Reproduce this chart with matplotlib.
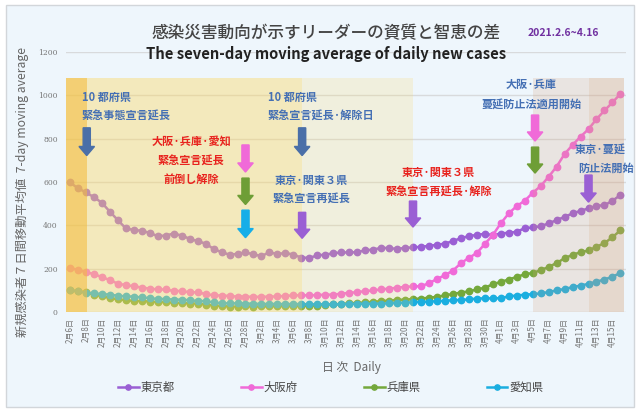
import matplotlib
matplotlib.use("Agg")
import matplotlib.pyplot as plt
from matplotlib.patches import Rectangle, FancyArrow
from matplotlib.lines import Line2D
import datetime as dt

plt.rcParams['font.family'] = ['Noto Sans CJK JP', 'DejaVu Sans']

# ---------------- data ----------------
start = dt.date(2021, 2, 6)
n_days = 70
dates = [start + dt.timedelta(days=i) for i in range(n_days)]
date_labels = [f"{d.month}月{d.day}日" for d in dates]

series_names = ["東京都", "大阪府", "兵庫県", "愛知県"]
tokyo = [598, 571, 552, 530, 504, 463, 424, 386, 378, 375,
         365, 350, 353, 362, 353, 338, 327, 316, 291, 276,
         265, 268, 275, 266, 258, 276, 267, 273, 265, 251,
         250, 261, 265, 271, 275, 275, 276, 285, 288, 296,
         295, 291, 296, 298, 301, 305, 310, 316, 327, 341,
         350, 356, 361, 355, 362, 366, 370, 387, 390, 396,
         409, 424, 439, 455, 467, 478, 490, 493, 513, 540]
osaka = [205, 193, 185, 174, 162, 147, 131, 124, 119, 113,
         108, 104, 104, 97, 97, 91, 91, 83, 77, 76,
         74, 71, 71, 70, 70, 71, 72, 74, 77, 77,
         77, 78, 80, 80, 85, 88, 92, 96, 100, 104,
         108, 112, 116, 118, 119, 133, 152, 170, 191, 225,
         250, 272, 314, 355, 409, 455, 489, 513, 550, 581,
         624, 671, 729, 771, 809, 844, 890, 930, 967, 1007]
hyogo = [100, 96, 91, 80, 73, 65, 58, 55, 51, 51,
         48, 46, 46, 42, 42, 39, 39, 34, 30, 28,
         25, 25, 26, 25, 26, 26, 27, 27, 27, 28,
         29, 30, 33, 35, 37, 40, 42, 44, 47, 50,
         53, 56, 57, 60, 62, 66, 70, 77, 83, 90,
         95, 104, 112, 128, 139, 150, 162, 174, 180, 193,
         208, 226, 248, 264, 276, 284, 301, 318, 345, 377]
aichi = [100, 95, 90, 86, 83, 80, 75, 72, 71, 67,
         64, 60, 60, 57, 57, 54, 51, 50, 44, 40,
         40, 40, 39, 38, 37, 37, 37, 36, 37, 36,
         36, 35, 36, 35, 36, 37, 38, 38, 38, 39,
         40, 42, 43, 45, 47, 48, 50, 52, 54, 56,
         58, 62, 63, 63, 64, 72, 76, 80, 82, 86,
         92, 100, 106, 115, 122, 130, 140, 150, 163, 180]
series = [tokyo, osaka, hyogo, aichi]
colors = ["#9a5fd4", "#f06ad8", "#74a83c", "#1aaee0"]

y_ticks = [0, 200, 400, 600, 800, 1000, 1200]

# ---------------- figure ----------------
W, H = 640, 415
fig = plt.figure(figsize=(W / 100, H / 100), dpi=100, facecolor="white")
panel = Rectangle((6 / W, 1 - 407 / H), 628 / W, 402 / H,
                  transform=fig.transFigure, facecolor="#eef6fc",
                  edgecolor="#d2d6da", linewidth=1, zorder=-10)
fig.patches.append(panel)

ax = fig.add_axes([66 / W, 1 - 312 / H, 560 / W, 260 / H])
ax.set_zorder(1)
ax.set_facecolor("none")
x = list(range(n_days))

ax.set_xlim(-0.5, 69.7)
ax.set_ylim(0, 1200)
for s in ax.spines.values():
    s.set_visible(False)
ax.set_yticks(y_ticks)
ax.set_yticklabels([str(v) for v in y_ticks], family="DejaVu Serif",
                   fontsize=5.5, color="#777777")
ax.yaxis.grid(True, color="#d8dadc", linewidth=1, zorder=0)
ax.set_axisbelow(True)
ax.tick_params(axis="both", length=0)
ax.tick_params(axis="y", pad=6)
ax.set_xticks(x[::2])
ax.set_xticklabels(date_labels[::2], rotation=90, fontsize=5.8, color="#777777")
ax.tick_params(axis="x", pad=4)

for vals, c, name in zip(series, colors, series_names):
    ax.plot(x, vals, color=c, lw=1.8, marker="o", ms=4.6, zorder=2, label=name)

# shaded periods (drawn on top, translucent)
bands = [(-0.45, 2.1, "#f5c346", 0.75),
         (2.1, 29.1, "#fad764", 0.42),
         (29.1, 43.0, "#fad764", 0.20),
         (58.0, 65.0, "#d7a078", 0.20),
         (65.0, 69.45, "#d7a078", 0.35)]
for x0, x1, c, a in bands:
    ax.add_patch(Rectangle((x0, 0), x1 - x0, 1080, facecolor=c, alpha=a,
                           edgecolor="none", zorder=3))

# arrows
def arrow(xc, ytop, ybot, color):
    ax.add_patch(FancyArrow(xc, ytop, 0, -(ytop - ybot), width=0.9,
                            head_width=1.95, head_length=42,
                            length_includes_head=True, color=color,
                            zorder=5))

blue = "#4570b4"
red = "#e8231e"
arrow(2.1, 850, 722, "#4a6fa8")
arrow(22.0, 771, 646, "#f06ad8")
arrow(22.0, 618, 496, "#6e9e36")
arrow(22.0, 470, 343, "#16aee8")
arrow(29.1, 850, 722, "#4a6fa8")
arrow(29.1, 460, 340, "#9a5fd4")
arrow(43.0, 512, 392, "#9a5fd4")
arrow(58.3, 909, 789, "#f06ad8")
arrow(58.3, 761, 641, "#6e9e36")
arrow(65.0, 632, 507, "#9a5fd4")

tk = dict(fontsize=8, fontweight="bold", zorder=6, va="center")
ax.text(1.5, 992, "10 都府県", color=blue, ha="left", **tk)
ax.text(1.5, 909, "緊急事態宣言延長", color=blue, ha="left", **tk)
ax.text(15.2, 788, "大阪·兵庫·愛知", color=red, ha="center", **tk)
ax.text(15.2, 700, "緊急宣言延長", color=red, ha="center", **tk)
ax.text(15.2, 612, "前倒し解除", color=red, ha="center", **tk)
ax.text(24.8, 992, "10 都府県", color=blue, ha="left", **tk)
ax.text(24.8, 909, "緊急宣言延長·解除日", color=blue, ha="left", **tk)
ax.text(30.3, 609, "東京·関東３県", color=blue, ha="center", **tk)
ax.text(30.3, 526, "緊急宣言再延長", color=blue, ha="center", **tk)
ax.text(46.2, 646, "東京·関東３県", color=red, ha="center", **tk)
ax.text(46.2, 558, "緊急宣言再延長·解除", color=red, ha="center", **tk)
ax.text(57.8, 1048, "大阪·兵庫", color=blue, ha="center", **tk)
ax.text(57.8, 960, "蔓延防止法適用開始", color=blue, ha="center", **tk)
ax.text(66.5, 752, "東京·蔓延", color=blue, ha="center", **tk)
ax.text(67.2, 664, "防止法開始", color=blue, ha="center", **tk)

# titles
fig.text(326 / W, 1 - 33 / H, "感染災害動向が示すリーダーの資質と智恵の差",
         ha="center", va="center", fontsize=12, fontweight="medium", color="#444444")
fig.text(326 / W, 1 - 54 / H, "The seven-day moving average of daily new cases",
         ha="center", va="center", fontsize=10.6, fontweight="bold", color="#222222")
fig.text(563 / W, 1 - 33 / H, "2021.2.6~4.16", ha="center", va="center",
         fontsize=7.5, fontweight="bold", color="#7030a0")
fig.text(22 / W, 1 - 192 / H, "新規感染者７日間移動平均値  7-day moving average",
         rotation=90, ha="center", va="center", fontsize=8.8, color="#666666")
fig.text(351 / W, 1 - 367 / H, "日 次  Daily", ha="center", va="center",
         fontsize=8.5, color="#666666")

handles = [Line2D([], [], color=c, lw=1.8, marker="o", ms=3.8) for c in colors]
fig.legend(handles, series_names, loc="center", bbox_to_anchor=(331 / W, 1 - 387 / H),
           ncol=4, frameon=False, fontsize=8.2, handlelength=1.8, handletextpad=0.2,
           columnspacing=5.8, labelcolor="#444444")

fig.savefig("out.png", dpi=100, facecolor="white")
